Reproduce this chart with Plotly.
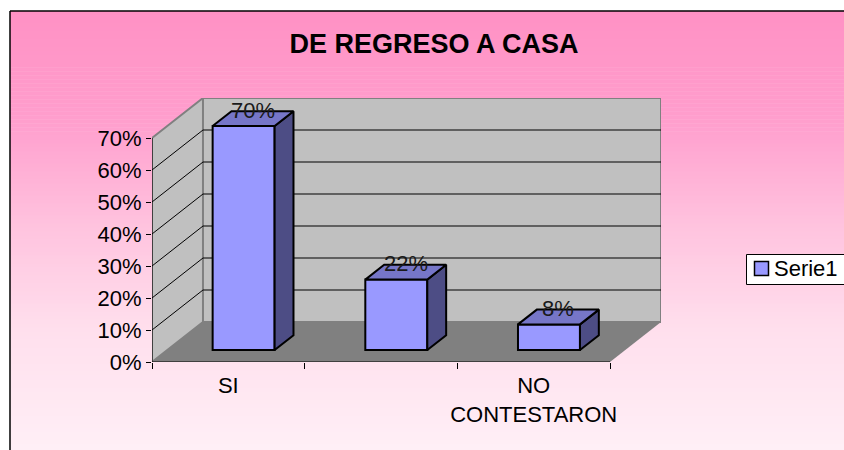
import plotly.graph_objects as go

# ---------------- data ----------------
categories = ["SI", "NO", "NO CONTESTARON"]
tick_labels = ["SI", "", "NO<br>CONTESTARON"]
values = [70, 22, 8]
y_ticks = [0, 10, 20, 30, 40, 50, 60, 70]
y_tick_labels = ["%d%%" % v for v in y_ticks]
series_name = "Serie1"
title_text = "DE REGRESO A CASA"

# ---------------- geometry / style ----------------
W, H = 844, 450
ML, MR, MT, MB = 152, 183, 98, 88
YMAX = y_ticks[-1]
DX = 0.334      # 3D depth in category units
DY = 12.5       # 3D depth in % units
F1, F2 = 0.30, 0.67   # bar front/back depth fractions
BW = 0.406      # bar width (category units)
NC = len(values)
FONT = "Liberation Sans, Arial, sans-serif"

pw = W - ML - MR
ph = H - MT - MB


def px2paper(px):
    return (px - ML) / pw


def py2paper(py):
    return (H - MB - py) / ph


shapes = []

# background gradient of the chart area
stops = [(11, (255, 145, 196)), (120, (255, 158, 205)), (230, (255, 196, 223)),
         (330, (255, 223, 237)), (450, (255, 239, 246))]


def grad(py):
    for (a, ca), (b, cb) in zip(stops[:-1], stops[1:]):
        if a <= py <= b:
            t = (py - a) / (b - a)
            return tuple(round(ca[k] + (cb[k] - ca[k]) * t) for k in range(3))
    return stops[-1][1]


NB = 110
y0, y1 = 11, 452
for i in range(NB):
    ya = y0 + (y1 - y0) * i / NB
    yb = y0 + (y1 - y0) * (i + 1) / NB + 0.6
    c = grad(min((ya + yb) / 2, 450))
    shapes.append(dict(type="rect", xref="paper", yref="paper", layer="below",
                       x0=px2paper(10), x1=px2paper(W + 4), y0=py2paper(yb), y1=py2paper(ya),
                       fillcolor="rgb(%d,%d,%d)" % c, line=dict(width=0)))

# chart area border (top and left)
shapes.append(dict(type="line", xref="paper", yref="paper", layer="above",
                   x0=px2paper(10), x1=px2paper(W + 4), y0=py2paper(11), y1=py2paper(11),
                   line=dict(color="black", width=1.5)))
shapes.append(dict(type="line", xref="paper", yref="paper", layer="above",
                   x0=px2paper(10), x1=px2paper(10), y0=py2paper(11), y1=py2paper(H + 4),
                   line=dict(color="black", width=1.5)))


def path(pts):
    return "M " + " L ".join("%f,%f" % p for p in pts) + " Z"


# floor
shapes.append(dict(type="path", xref="x", yref="y", layer="below",
                   path=path([(0, 0), (NC, 0), (NC + DX, DY), (DX, DY)]),
                   fillcolor="#808080", line=dict(width=0)))
# left wall
shapes.append(dict(type="path", xref="x", yref="y", layer="below",
                   path=path([(0, 0), (0, YMAX), (DX, YMAX + DY), (DX, DY)]),
                   fillcolor="#C0C0C0", line=dict(color="#808080", width=2)))
# back wall
shapes.append(dict(type="path", xref="x", yref="y", layer="below",
                   path=path([(DX, DY), (DX, YMAX + DY), (NC + DX, YMAX + DY), (NC + DX, DY)]),
                   fillcolor="#C0C0C0", line=dict(color="#808080", width=2)))
# gridlines
for v in y_ticks[1:-1]:
    shapes.append(dict(type="line", xref="x", yref="y", layer="below",
                       x0=DX, x1=NC + DX, y0=v + DY, y1=v + DY,
                       line=dict(color="black", width=1)))
    shapes.append(dict(type="line", xref="x", yref="y", layer="below",
                       x0=0, x1=DX, y0=v, y1=v + DY,
                       line=dict(color="black", width=1)))
# front axis lines
shapes.append(dict(type="line", xref="x", yref="y", layer="below",
                   x0=0, x1=0, y0=0, y1=YMAX, line=dict(color="black", width=1)))
shapes.append(dict(type="line", xref="x", yref="y", layer="below",
                   x0=0, x1=NC, y0=0, y1=0, line=dict(color="black", width=1)))

# legend box (drawn manually, cut by right edge like the reference)
shapes.append(dict(type="rect", xref="paper", yref="paper", layer="above",
                   x0=px2paper(746.5), x1=px2paper(W + 10), y0=py2paper(284.5), y1=py2paper(254.5),
                   fillcolor="white", line=dict(color="black", width=1)))
shapes.append(dict(type="rect", xref="paper", yref="paper", layer="above",
                   x0=px2paper(754.5), x1=px2paper(768.5), y0=py2paper(275.5), y1=py2paper(261.5),
                   fillcolor="#9999FF", line=dict(color="black", width=1.5)))

fig = go.Figure()

base = F1 * DY
centers = [i + 0.5 + F1 * DX for i in range(NC)]
fig.add_trace(go.Bar(
    x=centers, y=values, base=base, width=BW, name=series_name,
    marker=dict(color="#9999FF", line=dict(color="black", width=2)),
    hoverinfo="skip", showlegend=False))

bdx = (F2 - F1) * DX
bdy = (F2 - F1) * DY
annotations = []
for c, v in zip(centers, values):
    xl, xr = c - BW / 2, c + BW / 2
    top = base + v
    # side face
    sx = [xr, xr, xr + bdx, xr + bdx, xr]
    sy = [base, top, top + bdy, base + bdy, base]
    fig.add_trace(go.Scatter(x=sx, y=sy, mode="lines", fill="toself",
                             fillcolor="#4D4D85", line=dict(color="black", width=2),
                             hoverinfo="skip", showlegend=False))
    # top face
    tx = [xl, xr, xr + bdx, xl + bdx, xl]
    ty = [top, top, top + bdy, top + bdy, top]
    fig.add_trace(go.Scatter(x=tx, y=ty, mode="lines", fill="toself",
                             fillcolor="#7676C8", line=dict(color="black", width=2),
                             hoverinfo="skip", showlegend=False))
    annotations.append(dict(x=c + bdx / 2, y=top + bdy / 2, xref="x", yref="y",
                            text="%d%%" % v, showarrow=False, yanchor="bottom",
                            yshift=-6, font=dict(family=FONT, size=22, color="#1a1a1a")))

# legend text
annotations.append(dict(x=px2paper(772), y=py2paper(268.5), xref="paper", yref="paper",
                        text=series_name, showarrow=False, xanchor="left", yanchor="middle",
                        font=dict(family=FONT, size=22, color="black")))

fig.update_layout(
    width=W, height=H,
    margin=dict(l=ML, r=MR, t=MT, b=MB, autoexpand=False),
    paper_bgcolor="white", plot_bgcolor="rgba(0,0,0,0)",
    shapes=shapes, annotations=annotations,
    title=dict(text="<b>%s</b>" % title_text, x=434 / W, y=1 - 44 / H,
               xanchor="center", yanchor="middle",
               font=dict(family=FONT, size=27, color="black")),
    xaxis=dict(range=[0, NC + DX], showgrid=False, zeroline=False, showline=False,
               tickvals=[i + 0.5 for i in range(NC)], ticktext=tick_labels,
               ticks="", ticklabelstandoff=8,
               minor=dict(tickvals=list(range(NC + 1)), ticks="outside", ticklen=6,
                          tickcolor="black", tickwidth=1, showgrid=False),
               tickfont=dict(family=FONT, size=22, color="black"), fixedrange=True),
    yaxis=dict(range=[0, YMAX + DY], showgrid=False, zeroline=False, showline=False,
               tickvals=y_ticks, ticktext=y_tick_labels, ticks="outside", ticklen=5,
               tickcolor="black", tickwidth=1,
               tickfont=dict(family=FONT, size=22, color="black"), fixedrange=True),
    showlegend=False,
)

fig.write_html("out.html",
               config={"displayModeBar": False},
               post_script="document.body.style.margin='0';document.body.style.overflow='hidden';")
